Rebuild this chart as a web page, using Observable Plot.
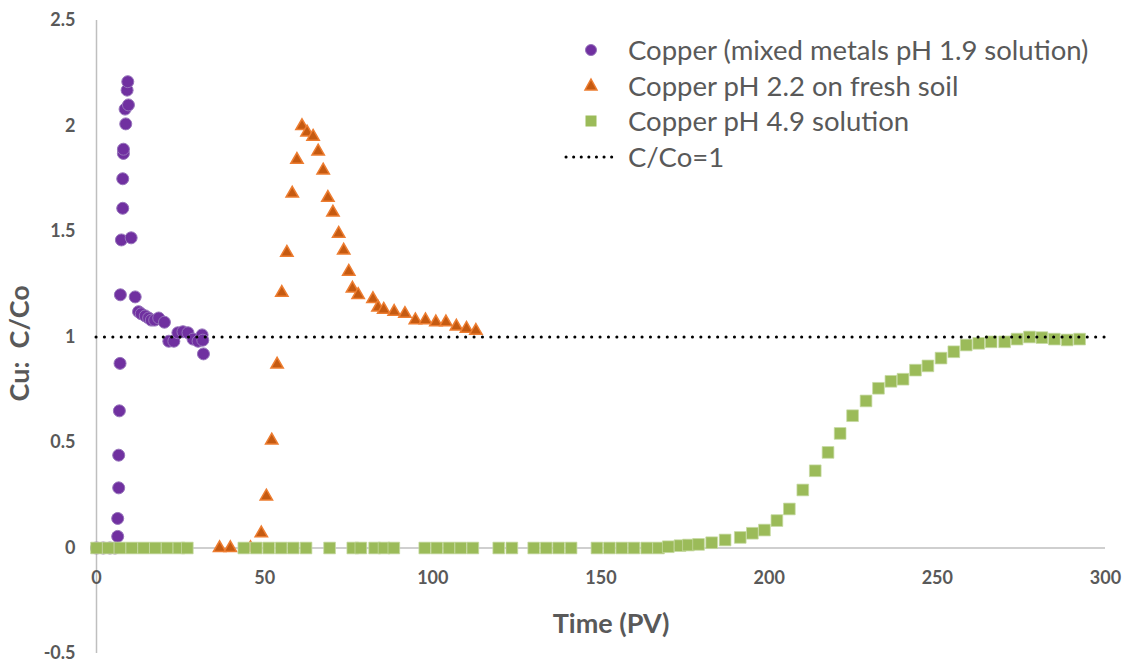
<!DOCTYPE html>
<html>
<head>
<meta charset="utf-8">
<script src="https://cdn.jsdelivr.net/npm/d3@7"></script>
<script src="https://cdn.jsdelivr.net/npm/@observablehq/plot@0.6"></script>
<style>
  body { margin: 0; background: #fff; }
  #wrap { position: relative; width: 1124px; height: 665px; font-family: "Lato", "Open Sans", sans-serif; }
  #legend { position: absolute; left: 560px; top: 32px; color: #595959; font-size: 27.5px; }
  .row { display: flex; align-items: center; height: 35.5px; }
  .row svg { width: 62px; height: 30px; flex: none; margin-right: 6px; }
</style>
</head>
<body>
<div id="wrap"><div id="legend"></div></div>
<script>
// ---- data ----
const mixedX = [0, 2, 4, 5.5, 6.3, 6.3, 6.6, 6.6, 6.8, 7.0, 7.1, 7.4, 7.8, 7.8, 8.0, 8.0, 8.7, 8.5, 9.5, 9.1, 9.3, 10.3, 11.5, 12.5, 13.3, 14.5, 15.5, 16.3, 17.3, 18.5, 20.2, 21.5, 23.0, 24.2, 25.7, 27.2, 28.7, 30.2, 31.4, 31.6, 31.8];
const mixedY = [0, 0, 0, 0, 0.055, 0.14, 0.285, 0.44, 0.65, 0.875, 1.20, 1.46, 1.61, 1.75, 1.87, 1.89, 2.01, 2.08, 2.10, 2.17, 2.21, 1.47, 1.19, 1.12, 1.11, 1.10, 1.09, 1.08, 1.08, 1.09, 1.07, 0.98, 0.98, 1.02, 1.025, 1.02, 0.99, 0.98, 1.01, 0.985, 0.92];

const freshX = [36.6, 39.8, 45.8, 49.0, 50.5, 52.1, 53.7, 55.1, 56.6, 58.2, 59.6, 61.1, 62.6, 64.4, 65.9, 67.4, 68.8, 70.3, 72.0, 73.5, 75.0, 76.1, 77.8, 82.2, 83.7, 85.4, 88.5, 91.7, 94.8, 97.8, 100.9, 103.9, 107.0, 110.0, 112.8];
const freshY = [0, 0, 0, 0.07, 0.245, 0.51, 0.87, 1.21, 1.40, 1.68, 1.84, 2.00, 1.97, 1.95, 1.88, 1.79, 1.66, 1.59, 1.49, 1.41, 1.31, 1.23, 1.20, 1.18, 1.14, 1.13, 1.12, 1.11, 1.08, 1.08, 1.07, 1.07, 1.05, 1.04, 1.03];

const ph49X = [0, 3.5, 7, 10.5, 14, 17.5, 21, 24.5, 27, 43.8, 47.5, 51.2, 54.9, 58.5, 62.3, 69.3, 76.2, 78.6, 82.7, 85.5, 88.4, 97.6, 101.2, 104.8, 108.3, 111.9, 119.6, 123.5, 130, 133.7, 137.4, 141.1, 148.8, 152.5, 156.2, 159.8, 163.6, 167.1, 170, 173.5, 176, 179, 182.9, 186.9, 191.4, 195, 198.6, 202.3, 206, 210, 213.7, 217.5, 221.1, 224.8, 228.8, 232.5, 236.2, 239.8, 243.5, 247.2, 251.1, 254.9, 258.6, 262.3, 266, 270, 273.7, 277.4, 281.1, 284.8, 288.6, 292.3];
const ph49Y = [0, 0, 0, 0, 0, 0, 0, 0, 0, 0, 0, 0, 0, 0, 0, 0, 0, 0, 0, 0, 0, 0, 0, 0, 0, 0, 0, 0, 0, 0, 0, 0, 0, 0, 0, 0, 0, 0, 0.006, 0.011, 0.014, 0.017, 0.025, 0.038, 0.05, 0.07, 0.085, 0.13, 0.185, 0.275, 0.366, 0.453, 0.543, 0.627, 0.697, 0.757, 0.79, 0.80, 0.843, 0.863, 0.90, 0.93, 0.962, 0.97, 0.977, 0.977, 0.99, 1.00, 0.997, 0.99, 0.986, 0.99];

const refLevel = [1];
const xTicks = [0, 50, 100, 150, 200, 250, 300];
const yTicks = [-0.5, 0, 0.5, 1, 1.5, 2, 2.5];
const seriesNames = ["Copper (mixed metals pH 1.9 solution)", "Copper pH 2.2 on fresh soil", "Copper pH 4.9 solution", "C/Co=1"];
const xTitle = "Time (PV)";
const yTitle = "Cu:\u00a0 C/Co";

const toRows = (xs, ys) => xs.map((x, i) => ({x, y: ys[i]}));
const mixed = toRows(mixedX, mixedY);
const fresh = toRows(freshX, freshY);
const ph49 = toRows(ph49X, ph49Y);

const grey = "#595959";
const chart = Plot.plot({
  width: 1124, height: 665,
  marginLeft: 96, marginRight: 19, marginTop: 20, marginBottom: 12,
  x: {domain: [0, 300], axis: null},
  y: {domain: [-0.5, 2.5], axis: null},
  style: {fontFamily: "Lato, 'Open Sans', sans-serif", background: "#fff"},
  marks: [
    Plot.ruleX([0], {stroke: "#bfbfbf", strokeWidth: 1.5}),
    Plot.ruleY([0], {x1: 0, x2: 300, stroke: "#bfbfbf", strokeWidth: 1.5}),
    Plot.text(yTicks, {x: 0, y: d => d, text: d => String(d), textAnchor: "end", dx: -21, fill: grey, fontSize: 18, fontWeight: "bold"}),
    Plot.text(xTicks, {x: d => d, y: 0, text: d => String(d), dy: 30, fill: grey, fontSize: 18, fontWeight: "bold"}),
    Plot.text([yTitle], {frameAnchor: "left", y: 0.97, dx: -76, rotate: -90, textAnchor: "middle", text: d => d, fill: grey, fontSize: 27, fontWeight: "bold"}),
    Plot.text([xTitle], {frameAnchor: "bottom", x: 153, dy: -21, textAnchor: "middle", text: d => d, fill: grey, fontSize: 27, fontWeight: "bold"}),
    Plot.dot(mixed, {x: "x", y: "y", r: 6, fill: "#7030a0", stroke: "#9673bb", strokeWidth: 1}),
    Plot.dot(fresh, {x: "x", y: "y", r: 4.6, symbol: "triangle", fill: "#c55a11", stroke: "#ed7d31", strokeWidth: 1.5}),
    Plot.dot(ph49, {x: "x", y: "y", r: 6.6, symbol: "square", fill: "#9bbb59", stroke: "#c6d9a2", strokeWidth: 0.75}),
    Plot.ruleY(refLevel, {x1: 0, x2: 300, stroke: "#000", strokeWidth: 3, strokeDasharray: "0.1 8.3", strokeLinecap: "round"})
  ]
});
const wrap = document.getElementById("wrap");
wrap.insertBefore(chart, wrap.firstChild);

// legend
const markers = [
  '<circle cx="31" cy="15" r="5.5" fill="#7030a0" stroke="#9673bb"/>',
  '<path d="M31 9 L37 20 L25 20 Z" fill="#c55a11" stroke="#ed7d31" stroke-width="1.5"/>',
  '<rect x="25.5" y="9.5" width="11" height="11" fill="#9bbb59"/>',
  '<line x1="6" x2="58" y1="16" y2="16" stroke="#000" stroke-width="3" stroke-dasharray="0.1 7.5" stroke-linecap="round"/>'
];
const legend = document.getElementById("legend");
seriesNames.forEach((name, i) => {
  const row = document.createElement("div");
  row.className = "row";
  row.innerHTML = `<svg viewBox="0 0 62 30">${markers[i]}</svg><span>${name}</span>`;
  legend.appendChild(row);
});
</script>
</body>
</html>
